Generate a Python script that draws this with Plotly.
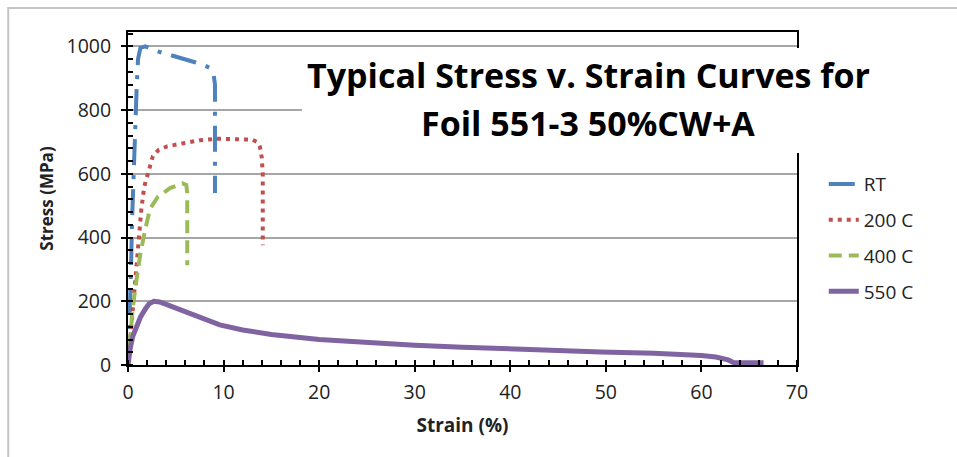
import plotly.graph_objects as go

# Tensile curves, Foil 551-3 50%CW+A: strain (%) vs engineering stress (MPa)
rt_strain = [0, 0.15, 0.3, 0.42, 0.55, 0.65, 0.8, 0.92, 1.05, 1.3, 1.8, 3.0, 4.5, 5.8, 7.0, 8.0, 8.6, 8.95, 9.1, 9.1, 9.1, 9.1, 9.1]
rt_stress = [0, 120, 280, 450, 580, 650, 780, 880, 960, 995, 1000, 985, 972, 962, 950, 940, 932, 915, 880, 800, 700, 600, 540]

c200_strain = [0, 0.3, 0.5, 0.8, 1.1, 1.4, 1.7, 2.1, 2.6, 3.2, 4.1, 5.8, 7.5, 9.3, 11.7, 13.0, 13.5, 13.8, 14.0, 14.1, 14.1, 14.1]
c200_stress = [0, 100, 180, 300, 400, 490, 560, 605, 655, 675, 686, 696, 705, 710, 710, 707, 700, 685, 650, 600, 500, 376]

c400_strain = [0, 0.2, 0.5, 0.9, 1.3, 1.8, 2.3, 3.1, 4.4, 5.7, 6.1, 6.2, 6.2, 6.2]
c400_stress = [0, 80, 180, 270, 350, 425, 490, 527, 555, 570, 565, 540, 450, 313]

c550_strain = [0, 0.1, 0.25, 0.5, 0.9, 1.3, 1.8, 2.2, 2.7, 3.3, 4.0, 5.0, 6.5, 8.0, 9.6, 12, 15, 20, 25, 30, 35, 40, 45, 49.5, 55, 58, 60, 61.5, 62.8, 63.4, 66.5]
c550_stress = [0, 30, 55, 90, 120, 150, 175, 192, 200, 198, 190, 178, 160, 142, 126, 110, 96, 80, 70, 62, 56, 50, 45, 41, 37, 34, 30, 25, 16, 7, 7]

series_names = ["RT", "200 C", "400 C", "550 C"]
series_colors = ["#4f81bd", "#c0504d", "#9bbb59", "#8064a2"]

x_ticks = [0, 10, 20, 30, 40, 50, 60, 70]
y_ticks = [0, 200, 400, 600, 800, 1000]

FONT = "Open Sans"

fig = go.Figure()
fig.add_trace(go.Scatter(x=rt_strain, y=rt_stress, name=series_names[0], mode="lines",
                         line=dict(color=series_colors[0], width=4, dash="26px,10px,4px,10px"),
                         legendgroup="a"))
fig.add_trace(go.Scatter(x=c200_strain, y=c200_stress, name=series_names[1], mode="lines",
                         line=dict(color=series_colors[1], width=4, dash="4px,5px"),
                         legendgroup="b"))
fig.add_trace(go.Scatter(x=c400_strain, y=c400_stress, name=series_names[2], mode="lines",
                         line=dict(color=series_colors[2], width=4, dash="13px,7px"),
                         legendgroup="c"))
fig.add_trace(go.Scatter(x=c550_strain, y=c550_stress, name=series_names[3], mode="lines",
                         line=dict(color=series_colors[3], width=5),
                         legendgroup="d"))

axis_font = dict(family=FONT, size=19.5, color="#222222")

fig.update_layout(
    width=957, height=457,
    margin=dict(l=128, r=160, t=32, b=92),
    paper_bgcolor="white", plot_bgcolor="white",
    font=dict(family=FONT, color="#222222"),
    showlegend=True,
    legend=dict(x=1.04, y=0.60, xanchor="left", yanchor="top",
                font=dict(family=FONT, size=19, color="#222222"),
                tracegroupgap=8, bgcolor="rgba(0,0,0,0)"),
    xaxis=dict(range=[0, 70], tickvals=x_ticks, ticks="outside", ticklen=5, tickwidth=2,
               tickcolor="black", showline=True, linecolor="black", linewidth=2, mirror=True,
               showgrid=False, zeroline=False, tickfont=axis_font, ticklabelstandoff=4,
               minor=dict(dtick=2, ticks="inside", ticklen=5, tickwidth=2, tickcolor="black", showgrid=False),
               title=dict(text="<b>Strain (%)</b>", font=dict(family=FONT, size=19, color="#222222"), standoff=14)),
    yaxis=dict(range=[0, 1045], tickvals=y_ticks, ticks="outside", ticklen=5, tickwidth=2,
               tickcolor="black", showline=True, linecolor="black", linewidth=2, mirror=True,
               showgrid=True, gridcolor="#a6a6a6", gridwidth=2, zeroline=False, tickfont=axis_font,
               ticklabelstandoff=6,
               minor=dict(dtick=40, ticks="inside", ticklen=5, tickwidth=2, tickcolor="black", showgrid=False),
               title=dict(text="<b>Stress (MPa)</b>", font=dict(family=FONT, size=17, color="#222222"), standoff=9)),
    xaxis2=dict(overlaying="x", anchor="y", range=[0, 70], tickvals=x_ticks, ticks="inside", ticklen=5,
                tickwidth=2, tickcolor="black", showticklabels=False, showgrid=False, zeroline=False),
    yaxis2=dict(overlaying="y", anchor="x", range=[0, 1045], tickvals=y_ticks, ticks="inside", ticklen=5,
                tickwidth=2, tickcolor="black", showticklabels=False, showgrid=False, zeroline=False),
)

# White panel behind the chart title, plus the outer frame of the figure
fig.add_shape(type="rect", xref="paper", yref="paper", x0=0.26, x1=1.13, y0=0.637, y1=0.952,
              fillcolor="white", line=dict(width=0), layer="above")
fig.add_shape(type="rect", xref="paper", yref="paper", x0=-0.179, x1=1.5, y0=-0.4, y1=1.072,
              fillcolor="rgba(0,0,0,0)", line=dict(color="#c4c4c4", width=2), layer="above")

title_font = dict(family=FONT, size=34, color="black")
fig.add_annotation(text="<b>Typical Stress v. Strain Curves for</b>", xref="paper", yref="paper",
                   x=0.688, y=0.871, xanchor="center", yanchor="middle", showarrow=False, font=title_font)
fig.add_annotation(text="<b>Foil 551-3 50%CW+A</b>", xref="paper", yref="paper",
                   x=0.688, y=0.726, xanchor="center", yanchor="middle", showarrow=False, font=title_font)

fig.write_html("out.html")
